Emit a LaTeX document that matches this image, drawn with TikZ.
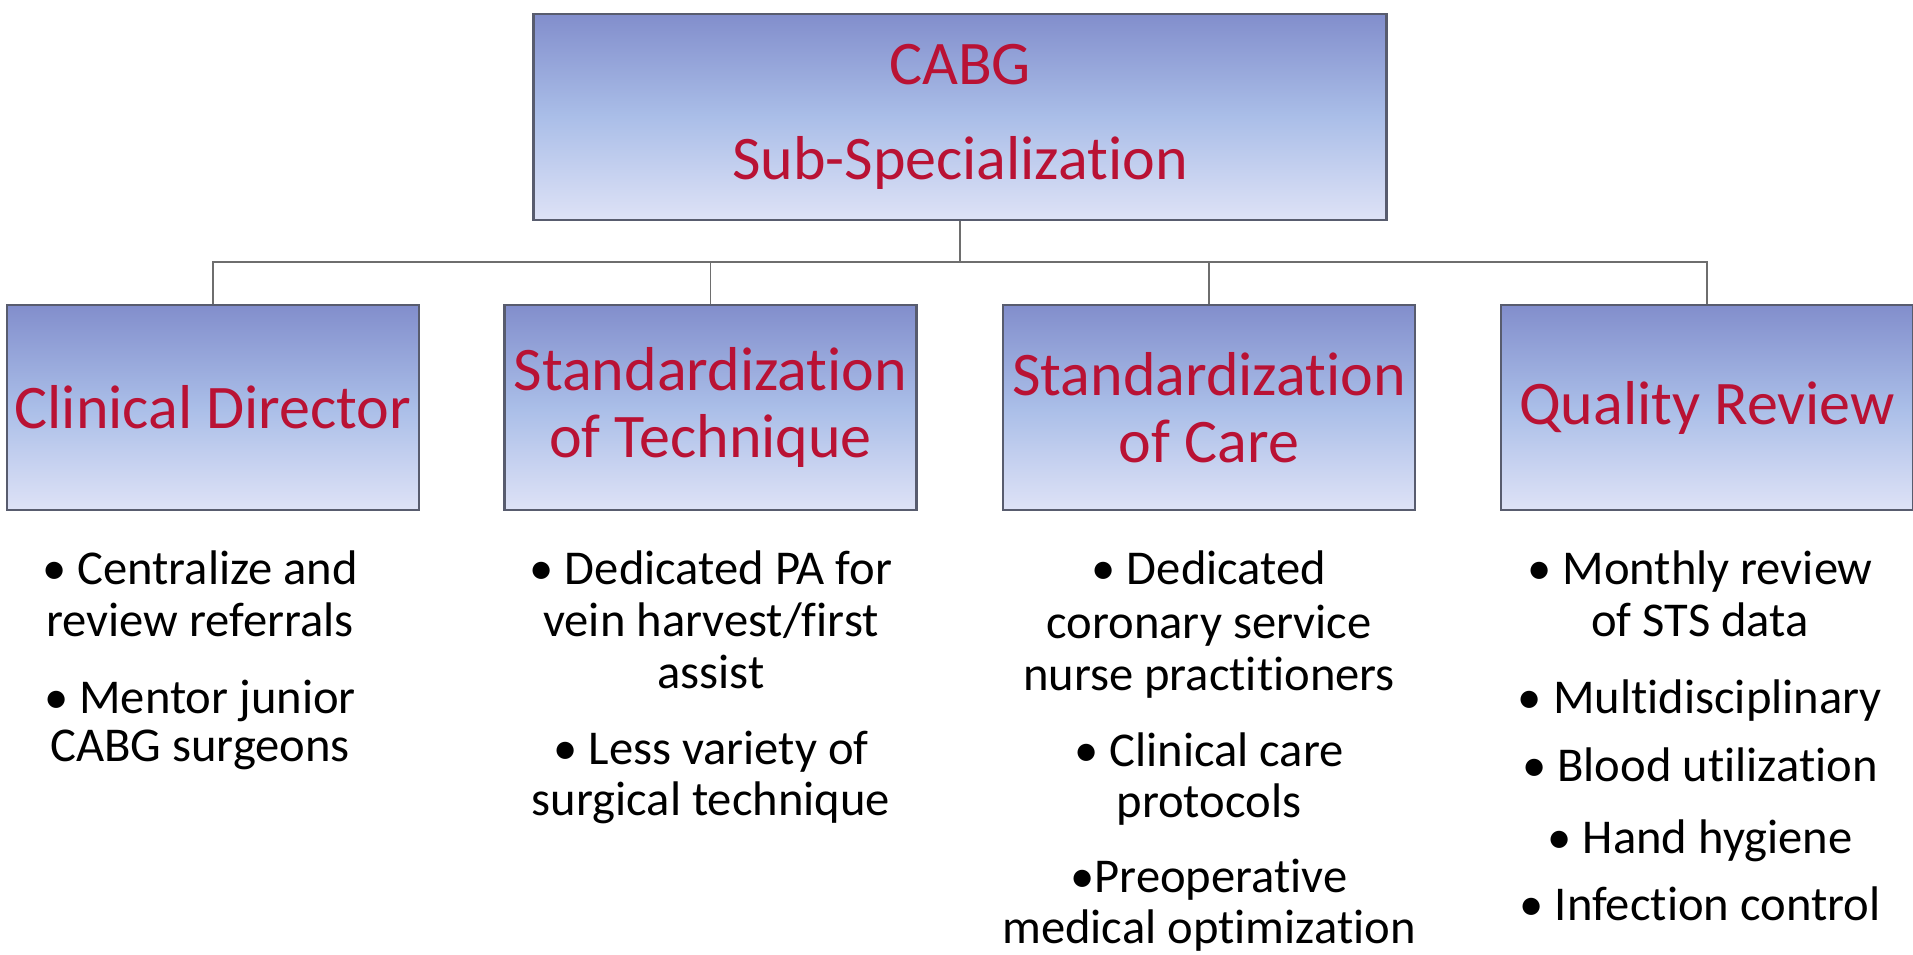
\documentclass[tikz,border=0pt]{standalone}
\usepackage{fontspec}
\setmainfont{Carlito}[Ligatures={NoCommon}]
\definecolor{titlered}{RGB}{185,18,52}
\definecolor{boxtop}{RGB}{130,142,204}
\definecolor{boxmid}{RGB}{170,190,232}
\definecolor{boxbot}{RGB}{222,226,246}
\definecolor{boxedge}{RGB}{88,92,110}
\definecolor{connc}{RGB}{110,110,110}
\begin{document}
\begin{tikzpicture}[x=0.5pt,y=-0.5pt,
  box/.style={draw=boxedge, line width=1.3pt, top color=boxtop, bottom color=boxbot, middle color=boxmid,
    inner sep=0pt, align=center, text=titlered},
  topbox/.style={box, minimum width=426.5pt, minimum height=103pt, font=\fontsize{31}{47.5}\selectfont},
  subbox/.style={box, minimum width=206pt, minimum height=102.5pt, font=\fontsize{31}{33.5}\selectfont},
  conn/.style={draw=connc, line width=0.9pt},
  bl/.style={font=\fontsize{24.3}{26}\selectfont, anchor=base, inner sep=0pt}]
\useasboundingbox (0,0) rectangle (1913,954);

\node[topbox] (top) at (960,117) {CABG\\Sub-Specialization};
\node[subbox] (b1) at (213,407.5) {Clinical Director};
\node[subbox] (b2) at (710.5,407.5) {Standardization\\of Technique};
\node[subbox] (b3) at (1209,407.5) {Standardization\\of Care};
\node[subbox] (b4) at (1707,407.5) {Quality Review};

\coordinate (hub) at (960,262);
\draw[conn] (top.south) -- (hub);
\draw[conn] (b1.north) |- (hub);
\draw[conn] (b2.north) |- (hub);
\draw[conn] (b3.north) |- (hub);
\draw[conn] (b4.north) |- (hub);

% column 1
\node[bl] (c1a) at (200,584) {• Centralize and};
\node[bl] (c1b) at (200,636) {review referrals};
\node[bl] (c1c) at (200,713) {• Mentor junior};
\node[bl] (c1d) at (200,761) {CABG surgeons};
% column 2
\node[bl] (c2a) at (711,584) {• Dedicated PA for};
\node[bl] (c2b) at (711,636) {vein harvest/first};
\node[bl] (c2c) at (711,688) {assist};
\node[bl] (c2d) at (711,764) {• Less variety of};
\node[bl] (c2e) at (711,815) {surgical technique};
% column 3
\node[bl] (c3a) at (1209,584) {• Dedicated};
\node[bl] (c3b) at (1209,638) {coronary service};
\node[bl] (c3c) at (1209,690) {nurse practitioners};
\node[bl] (c3d) at (1209,766) {• Clinical care};
\node[bl] (c3e) at (1209,817) {protocols};
\node[bl] (c3f) at (1209,892) {•Preoperative};
\node[bl] (c3g) at (1209,943) {medical optimization};
% column 4
\node[bl] (c4a) at (1700,584) {• Monthly review};
\node[bl] (c4b) at (1700,636) {of STS data};
\node[bl] (c4c) at (1700,713) {• Multidisciplinary};
\node[bl] (c4d) at (1700,781) {• Blood utilization};
\node[bl] (c4e) at (1700,853) {• Hand hygiene};
\node[bl] (c4f) at (1700,920) {• Infection control};
\end{tikzpicture}
\end{document}
